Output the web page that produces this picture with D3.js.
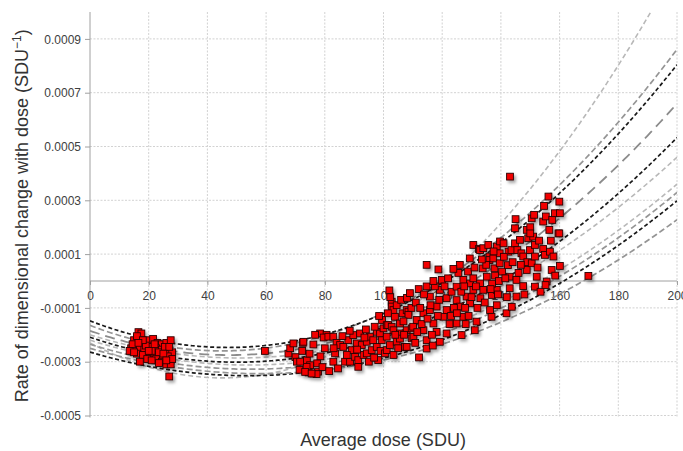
<!DOCTYPE html>
<html>
<head>
<meta charset="utf-8">
<script src="https://cdn.jsdelivr.net/npm/d3@7"></script>
<style>
  html, body { margin: 0; padding: 0; background: #fff; }
  svg { display: block; }
</style>
</head>
<body>
<svg id="chart" width="683" height="451"></svg>
<script>
// ---------------- DATA ----------------
const RATE_UNIT = 1e-4; // values below are in units of 1e-4 SDU^-1

const xTicks = [0, 20, 40, 60, 80, 100, 120, 140, 160, 180, 200];
const yTicks = [-0.0005, -0.0003, -0.0001, 0.0001, 0.0003, 0.0005, 0.0007, 0.0009];
const yTickLabels = ["-0.0005", "-0.0003", "-0.0001", "0.0001", "0.0003", "0.0005", "0.0007", "0.0009"];

// quadratic fit curves: rate = a + b*dose + c*dose^2 (rate in 1e-4 units)
const curveCoefs = [
  [-2.30, -0.0577, 0.000639],
  [-1.65, -0.0421, 0.000467],
  [-1.48, -0.0422, 0.000449],
  [-1.85, -0.0381, 0.0004016],
  [-2.09, -0.0371, 0.000371],
  [-2.00, -0.03396, 0.0003348],
  [-2.20, -0.0342, 0.000316],
  [-2.35, -0.0340, 0.000311],
  [-2.64, -0.0327, 0.000304],
  [-2.50, -0.0327, 0.000283]
];
const curveKinds = ["light", "gray", "black", "longgray", "black", "light", "light", "gray", "black", "gray"];

// measured points [dose, rate(1e-4)]
const groupLow = [
  [16.5,-1.9],[17.5,-1.95],[15,-2.2],[16,-2.05],[18.5,-2.3],[20,-2.2],[21.5,-2.15],[23,-2.3],[24.5,-2.35],[26,-2.3],
  [27.5,-2.2],[14,-2.5],[15.5,-2.5],[17,-2.5],[18.5,-2.5],[20.5,-2.45],[22.5,-2.5],[24.5,-2.55],[26.5,-2.6],[28,-2.65],
  [16,-2.7],[18,-2.75],[20.5,-2.75],[22,-2.8],[24,-2.8],[26.5,-2.8],[17,-3.0],[22.5,-2.9],[24.5,-3.0],[26,-3.1],
  [27.5,-3.1],[27,-3.55],[14.5,-2.35],[19,-2.4],[21,-2.6],[23.5,-2.65],[25.5,-2.45],[27,-2.45],[13.5,-2.6],[19.5,-2.9],
  [21,-2.95],[25,-2.7],[28,-2.9],[15,-2.65],[18,-2.2],[22,-2.35],[26,-2.95],[23.5,-3.05],[20,-2.6],[16.5,-2.3]
];
const groupMid = [
  [59.6,-2.6],[78.4,-1.95],[80.6,-2.0],[76.7,-2.0],[76.1,-2.36],[72.3,-2.6],[70,-2.83],[70.5,-3.0],[71.4,-3.3],[73.9,-2.95],
  [75,-3.13],[74.5,-3.4],[76.1,-3.44],[77.4,-3.06],[77.7,-3.37],[67.6,-2.7],[68.2,-2.5],[69.3,-2.32],[72.5,-2.3],[72.7,-2.26],
  [73.8,-3.19],[73.3,-3.38],[77.2,-3.46],[75.5,-3.44],[71.6,-3.0],[79.6,-2.1],[78.5,-2.8],[79.2,-3.2],[80,-2.5],[74.8,-2.7]
];
const groupHigh = [
  [81.2,-2.07],[82.9,-2.07],[83.5,-2.69],[82.9,-3.0],[84,-2.3],[85.2,-2.38],[86.3,-2.45],[86.9,-3.0],[88.6,-3.0],[88,-2.2],
  [89.7,-2.01],[89.2,-2.57],[87.5,-2.75],[84.5,-3.25],[81.5,-3.35],[86,-2.05],[88.5,-1.85],[83,-2.5],
  [90.3,-2.82],[90.9,-2.32],[91.4,-3.19],[91.4,-2.94],[92.6,-2.38],[93.2,-2.75],[94.3,-2.26],[94.3,-2.69],[95.4,-2.07],[96,-2.57],
  [97.7,-2.45],[97.7,-1.89],[98.2,-2.94],[98.8,-1.95],[99.4,-2.2],[100,-1.76],[92,-1.95],[93.5,-2.1],[95,-3.0],[96.5,-2.2],
  [97,-1.7],[99,-2.6],[91,-2.55],[94,-1.8],[96.8,-2.85],[99.5,-1.45],[98.5,-1.3],
  [100.5,-2.69],[101.1,-2.07],[101.1,-1.64],[101.1,-2.57],[101.6,-1.64],[102.2,-2.38],[102.8,-1.7],[102.8,-0.89],[102.8,-0.77],[102.8,-0.95],
  [102,-0.35],[102.3,-0.6],[103.4,-1.08],[103.4,-2.75],[103.4,-1.83],[103.9,-1.33],[104.5,-2.26],[105.6,-1.95],[105.6,-1.58],[105.6,-2.14],
  [106.5,-1.2],[107.3,-2.45],[107.9,-1.83],[107.9,-1.08],[107.9,-2.45],[108.5,-1.14],[108.5,-1.26],[109.6,-1.76],[109.6,-2.13],[110.2,-2.08],
  [110.1,-1.7],[104.5,-0.9],[106,-0.7],[108,-0.63],[109,-0.45],[105,-2.5],[106.8,-1.5],[104,-2.0],[101.5,-1.2],[107,-2.0],[109.5,-1.0],
  [111.3,-1.45],[112.1,-2.84],[113.6,-1.2],[113.6,-1.83],[114.7,0.6],[114.7,-0.2],[114.7,-2.2],[114.7,-2.51],[115.8,-0.58],[115.8,-1.08],
  [117,-1.58],[118.1,-0.95],[118.1,-1.89],[118.7,0.43],[119.2,-0.33],[119.2,-2.26],[119.9,0.04],[120.4,-1.33],[111,-0.8],[112,-0.3],
  [113,-1.6],[116,-0.9],[116.5,-2.0],[117.5,-0.2],[118.5,-1.3],[112.5,-1.0],[110.8,-2.3],[115,-1.4],[117,0.0],[119,-0.7],
  [113.8,-0.5],[111.5,-1.9],[116.8,-2.4],
  [121.5,-0.64],[121.5,-1.08],[121.5,-1.95],[123.2,-0.4],[124.9,-0.71],[124.9,-0.21],[124.9,-1.58],[126.1,-0.95],[126.6,-2.01],[127.2,-1.33],
  [127.2,0.04],[128.3,-0.58],[129.4,0.84],[129.5,-0.83],[129.5,-0.09],[122,0.1],[123,-1.3],[124,-1.0],[125.5,0.3],[126.5,-0.4],
  [127.8,-1.0],[128.8,0.35],[122.5,-1.6],[125,-1.2],[128,-1.6],[129,-1.3],[120.8,-0.2],[126,0.6],[123.8,0.45],[127.5,-0.2],
  [130.6,1.34],[130.6,-0.33],[130.6,0.1],[131.1,-1.83],[131.7,-1.51],[132.5,1.19],[132.9,1.15],[132.9,-0.09],[133,-0.64],[133.8,0.47],
  [134,-0.33],[134,1.22],[135.2,0.16],[135.7,1.34],[136.1,0.91],[136.1,0.78],[136.3,-1.08],[136.8,-1.33],[136.9,-0.52],[137.4,0.84],
  [137.8,0.47],[138.6,1.28],[138.6,-0.33],[138.6,-0.9],[139.6,0.66],[139.6,1.03],[139.7,1.47],[131,0.5],[132,-1.0],[134.5,-0.8],
  [135,0.6],[137,-0.1],[138,0.2],[139,-0.5],[130,-0.6],[133.5,0.8],[136.5,-0.3],[139.3,0.0],[131.5,-0.2],[137.5,1.1],
  [140.4,0.35],[140.9,1.4],[141.9,-1.2],[142.4,0.59],[142.6,1.09],[143,0.16],[143,-0.27],[143.1,3.88],[143.6,1.15],[143.7,-0.96],
  [144.8,1.96],[144.8,1.4],[145.3,0.04],[145.3,-0.58],[145.6,1.15],[146.5,1.53],[147,1.03],[147.6,-0.19],[147.6,0.91],[148.8,1.9],
  [148.8,0.41],[149.3,1.59],[149.9,1.15],[141,0.9],[142,-0.6],[144,0.7],[146,0.3],[148,-0.5],[149,0.7],[141.5,0.1],
  [145,2.3],[146.8,0.6],[150,2.0],
  [150.5,2.33],[150.5,0.66],[151,1.65],[151.3,2.46],[151.6,0.91],[151.6,-0.21],[151.6,1.34],[152.2,0.16],[154.4,2.21],[154.4,1.19],
  [154.7,2.79],[155,0.97],[155.3,2.4],[155.6,-0.02],[156.2,3.14],[156.5,1.9],[156.7,1.09],[157.3,0.41],[157.5,2.27],[157.9,0.91],
  [158.4,2.52],[159.6,1.77],[159.9,2.95],[159.9,1.77],[160.1,0.56],[150,1.77],[153,1.5],[152.5,0.5],[153.5,-0.4],[155.2,-0.15],
  [158.5,0.2],[157,1.5],[160.1,2.52],[169.8,0.19]
];

// ---------------- CHART ----------------
const svg = d3.select("#chart");
const plot = { left: 90, right: 677, top: 12, bottom: 415.5 };

const x = d3.scaleLinear().domain([0, 200]).range([plot.left, plot.right]);
const y = d3.scaleLinear().domain([-0.0005, 0.001]).range([plot.bottom, plot.top]);

const defs = svg.append("defs");
defs.append("clipPath").attr("id", "clip")
  .append("rect").attr("x", plot.left).attr("y", plot.top)
  .attr("width", plot.right - plot.left).attr("height", plot.bottom - plot.top);
const f = defs.append("filter").attr("id", "shadow")
  .attr("x", "-20%").attr("y", "-20%").attr("width", "140%").attr("height", "140%");
f.append("feDropShadow").attr("dx", 2).attr("dy", 2.5).attr("stdDeviation", 1.5)
  .attr("flood-color", "#000").attr("flood-opacity", 0.35);

// gridlines
const grid = svg.append("g");
grid.selectAll("line.vg").data(xTicks.filter(d => d > 0)).join("line")
  .attr("x1", d => x(d)).attr("x2", d => x(d))
  .attr("y1", plot.top).attr("y2", plot.bottom + 2)
  .attr("stroke", "#d2d2d2").attr("stroke-width", 1).attr("stroke-dasharray", "2,1.5");
grid.selectAll("line.hg").data(yTicks).join("line")
  .attr("x1", plot.left).attr("x2", plot.right)
  .attr("y1", d => y(d)).attr("y2", d => y(d))
  .attr("stroke", "#d2d2d2").attr("stroke-width", 1).attr("stroke-dasharray", "2,1.5");

// y axis
const yAxis = d3.axisLeft(y).tickValues(yTicks)
  .tickFormat((d, i) => yTickLabels[i]).tickSize(5).tickPadding(4);
const gy = svg.append("g").attr("transform", `translate(${plot.left},0)`).call(yAxis);
gy.select(".domain").attr("stroke", "#a0a0a0").attr("d", `M0,${plot.top}V${plot.bottom + 2}`);
gy.selectAll(".tick line").attr("stroke", "#a0a0a0");
gy.selectAll(".tick text").attr("font-family", "Liberation Sans, Arial, sans-serif")
  .attr("font-size", 12).attr("fill", "#404040").attr("dy", "0.35em");

// x axis at zero
const xAxis = d3.axisBottom(x).tickValues(xTicks).tickSize(4).tickPadding(6);
const gx = svg.append("g").attr("transform", `translate(0,${y(0)})`).call(xAxis);
gx.select(".domain").attr("stroke", "#a0a0a0").attr("d", `M${plot.left},0H${plot.right}`);
gx.selectAll(".tick line").attr("stroke", "#a0a0a0");
gx.selectAll(".tick text").attr("font-family", "Liberation Sans, Arial, sans-serif")
  .attr("font-size", 12).attr("fill", "#404040");

// curves
const styleOf = {
  black:    { stroke: "#1a1a1a", width: 1.7, dash: "4,2.5" },
  gray:     { stroke: "#959595", width: 1.7, dash: "6,3" },
  longgray: { stroke: "#8c8c8c", width: 1.8, dash: "10,6" },
  light:    { stroke: "#b8b8b8", width: 1.6, dash: "5,3" }
};
const doseSamples = d3.range(0, 200.01, 1);
const line = d3.line().x(d => x(d[0])).y(d => y(d[1]));
const curveG = svg.append("g").attr("clip-path", "url(#clip)");
curveCoefs.forEach((c, i) => {
  const pts = doseSamples.map(t => [t, (c[0] + c[1] * t + c[2] * t * t) * RATE_UNIT]);
  const s = styleOf[curveKinds[i]];
  curveG.append("path").datum(pts).attr("d", line)
    .attr("fill", "none").attr("stroke", s.stroke)
    .attr("stroke-width", s.width).attr("stroke-dasharray", s.dash);
});

// points
const allPoints = groupLow.concat(groupMid, groupHigh);
const sz = 6.8;
svg.append("g").attr("filter", "url(#shadow)")
  .selectAll("rect").data(allPoints).join("rect")
  .attr("x", d => x(d[0]) - sz / 2)
  .attr("y", d => y(d[1] * RATE_UNIT) - sz / 2)
  .attr("width", sz).attr("height", sz)
  .attr("fill", "#f20000").attr("stroke", "#2a0000").attr("stroke-width", 0.9);

// axis titles
svg.append("text")
  .attr("x", (plot.left + plot.right) / 2 - 0.5).attr("y", 446)
  .attr("text-anchor", "middle")
  .attr("font-family", "Liberation Sans, Arial, sans-serif").attr("font-size", 18)
  .attr("fill", "#333").text("Average dose (SDU)");

const yt = svg.append("text")
  .attr("transform", `translate(28,${(plot.top + plot.bottom) / 2 + 2}) rotate(-90)`)
  .attr("text-anchor", "middle")
  .attr("font-family", "Liberation Sans, Arial, sans-serif").attr("font-size", 18)
  .attr("fill", "#333");
yt.append("tspan").text("Rate of dimensional change with dose (SDU");
yt.append("tspan").attr("font-size", 12).attr("dy", -7).text("\u22121");
yt.append("tspan").attr("dy", 7).text(")");
</script>
</body>
</html>
